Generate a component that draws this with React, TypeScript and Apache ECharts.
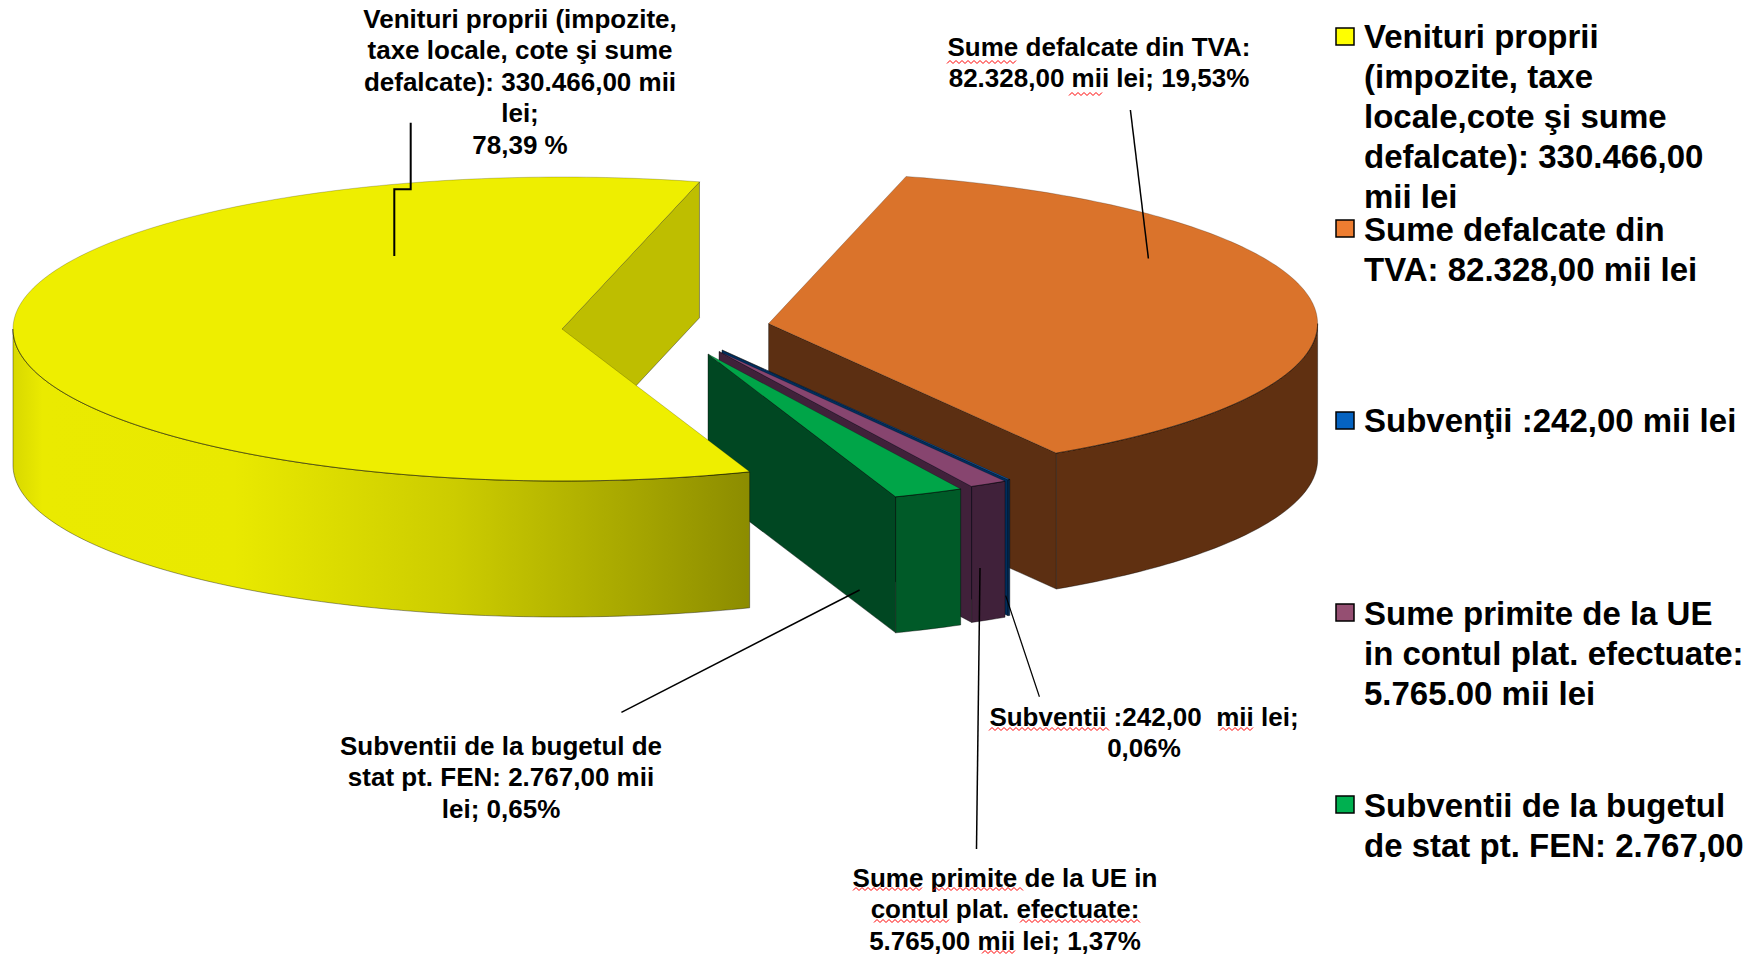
import React, { useEffect, useRef } from "react";
import * as echarts from "echarts";

// Data ------------------------------------------------------------------
const sliceNames = [
  "Venituri proprii",
  "Subventii de la bugetul de stat pt. FEN",
  "Sume primite de la UE",
  "Subvenţii",
  "Sume defalcate din TVA",
];
// Amounts printed in the labels (mii lei)
const statedValues = [330466, 2767, 5765, 242, 82328];
// Share of the circle each slice really occupies in the picture (%)
const drawnShares = [59.58, 2.06, 1.11, 0.06, 37.19];

const dataLabels = [
  "Venituri proprii (impozite,\ntaxe locale, cote şi sume\ndefalcate): 330.466,00 mii\nlei;\n78,39 %",
  "Sume defalcate din TVA:\n82.328,00 mii lei; 19,53%",
  "Subventii :242,00  mii lei;\n0,06%",
  "Sume primite de la UE in\ncontul plat. efectuate:\n5.765,00 mii lei; 1,37%",
  "Subventii de la bugetul de\nstat pt. FEN: 2.767,00 mii\nlei; 0,65%",
];
const legendLabels = [
  "Venituri proprii\n(impozite, taxe\nlocale,cote şi sume\ndefalcate): 330.466,00\nmii lei",
  "Sume defalcate din\nTVA: 82.328,00 mii lei",
  "Subvenţii :242,00 mii lei",
  "Sume primite de la UE\nin contul plat. efectuate:\n5.765.00 mii lei",
  "Subventii de la bugetul\nde stat pt. FEN: 2.767,00",
];

// Layout ----------------------------------------------------------------
const FONT = '"Liberation Sans", Arial, sans-serif';
const START_ANGLE = 75.5;
const RX = 549;
const RY = 152;
const DEPTH = 136;
// exploded centre of each slice, same order as sliceNames
const centres = [
  [562, 329],
  [708, 354],
  [719, 351.5],
  [722, 350],
  [768.6, 323.6],
];
const paintOrder = [4, 3, 2, 1, 0];
const yellowWall = {
  type: "linear", x: 0, y: 0, x2: 1, y2: 0,
  colorStops: [
    { offset: 0, color: "#d8d800" },
    { offset: 0.04, color: "#eaea00" },
    { offset: 0.3, color: "#e9e900" },
    { offset: 0.6, color: "#cccc00" },
    { offset: 0.85, color: "#a5a500" },
    { offset: 1, color: "#8c8c00" },
  ],
};
const topColors = ["#eeee00", "#00a548", "#87456f", "#0563c1", "#da732b"];
const innerColors = ["#bebe00", "#004722", "#40213a", "#002d5c", "#5c2f12"];
const outerColors: any[] = [yellowWall, "#005a28", "#40213a", "#002d5c", "#603011"];

const legendColors = ["#ffff00", "#ed7d31", "#0563c1", "#954f72", "#00b050"];
const legendIconTops = [28, 220, 412, 604, 796];
const legendTextTops = [16, 209, 400, 593, 785];

const labelAnchors = [
  { x: 520, y: 3 },
  { x: 1099, y: 31 },
  { x: 1144, y: 701 },
  { x: 1005, y: 862 },
  { x: 501, y: 730 },
];
const leaders = [
  { w: 2, pts: [[410.7, 122.7], [410.7, 189.3], [394.3, 189.3], [394.3, 256]] },
  { w: 1.5, pts: [[1130.4, 110], [1148.4, 258.5]] },
  { w: 1.5, pts: [[621.4, 712.4], [859.6, 590]] },
  { w: 1.5, pts: [[976.5, 849], [980, 568]] },
  { w: 1.2, pts: [[1005.7, 595.6], [1039.4, 696.7]] },
];
// spell-check underlines [x0, x1, y]
const squiggles = [
  [947, 1017, 62], [1069, 1104, 94],
  [989, 1110, 729], [1220, 1254, 729],
  [853, 923, 889], [933, 1023, 889],
  [874, 950, 921], [1020, 1140, 921],
  [982, 1016, 952],
];

// Geometry --------------------------------------------------------------
const startAngles: number[] = [];
drawnShares.reduce((acc, s, i) => {
  startAngles[i] = acc;
  return acc + (s / 100) * 360;
}, START_ANGLE);

function rim(cx: number, cy: number, a0: number, a1: number, dy = 0) {
  const n = Math.max(2, Math.ceil(Math.abs(a1 - a0)));
  const out: number[][] = [];
  for (let k = 0; k <= n; k++) {
    const t = ((a0 + ((a1 - a0) * k) / n) * Math.PI) / 180;
    out.push([cx + RX * Math.cos(t), cy - RY * Math.sin(t) + dy]);
  }
  return out;
}

const EDGE = "rgba(0,0,0,0.55)";
const SOFT_EDGE = "rgba(0,0,0,0.3)";

function renderSlice(_params: any, api: any) {
  const i = api.value(0);
  const share = api.value(1);
  const [cx, cy] = centres[i];
  const a0 = startAngles[i];
  const a1 = a0 + (share / 100) * 360;
  const children: any[] = [];

  // radial face at the slice's starting edge
  const s = rim(cx, cy, a0, a0)[0];
  children.push({
    type: "polygon",
    shape: { points: [[cx, cy], s, [s[0], s[1] + DEPTH], [cx, cy + DEPTH]] },
    style: { fill: innerColors[i], stroke: EDGE, lineWidth: 0.7 },
  });

  // front part of the outer wall (where the rim faces the viewer)
  const w0 = Math.max(a0, 180);
  const w1 = Math.min(a1, 360);
  const hasWall = w1 > w0;
  if (hasWall) {
    const upper = rim(cx, cy, w0, w1);
    const lower = rim(cx, cy, w1, w0, DEPTH);
    children.push({
      type: "polygon",
      shape: { points: upper.concat(lower) },
      style: { fill: outerColors[i], stroke: EDGE, lineWidth: 0.7 },
    });
  }

  // top face
  children.push({
    type: "polygon",
    shape: { points: [[cx, cy] as number[]].concat(rim(cx, cy, a0, a1)) },
    style: { fill: topColors[i], stroke: SOFT_EDGE, lineWidth: 0.7 },
  });
  // crisp front rim over the top face
  if (hasWall) {
    children.push({
      type: "polyline",
      shape: { points: rim(cx, cy, w0, w1) },
      style: { fill: "none", stroke: EDGE, lineWidth: 0.8 },
    });
  }
  return { type: "group", children };
}

function zigzag(x0: number, x1: number, y: number) {
  const pts: number[][] = [];
  let up = false;
  for (let x = x0; x <= x1; x += 3) {
    pts.push([x, y + (up ? -1.5 : 1.5)]);
    up = !up;
  }
  return pts;
}

export default function App() {
  const ref = useRef<HTMLDivElement>(null);
  useEffect(() => {
    document.body.style.margin = "0";
    const chart = echarts.init(ref.current!, null, { renderer: "svg" });
    const graphics: any[] = [];

    leaders.forEach((l) =>
      graphics.push({
        type: "polyline", z: 5,
        shape: { points: l.pts },
        style: { stroke: "#000", lineWidth: l.w, fill: "none" },
      })
    );
    dataLabels.forEach((text, i) =>
      graphics.push({
        type: "text", z: 6,
        style: {
          text, x: labelAnchors[i].x, y: labelAnchors[i].y,
          align: "center", verticalAlign: "top",
          fontFamily: FONT, fontWeight: "bold", fontSize: 26, lineHeight: 31.5, fill: "#000",
        },
      })
    );
    squiggles.forEach(([x0, x1, y]) =>
      graphics.push({
        type: "polyline", z: 7,
        shape: { points: zigzag(x0, x1, y) },
        style: { stroke: "#ff0000", lineWidth: 1, fill: "none" },
      })
    );
    legendLabels.forEach((text, i) => {
      graphics.push({
        type: "rect", z: 6,
        shape: { x: 1336, y: legendIconTops[i], width: 18, height: 17 },
        style: { fill: legendColors[i], stroke: "#000", lineWidth: 1.5 },
      });
      graphics.push({
        type: "text", z: 6,
        style: {
          text, x: 1364, y: legendTextTops[i],
          align: "left", verticalAlign: "top",
          fontFamily: FONT, fontWeight: "bold", fontSize: 33, lineHeight: 40.2, fill: "#000",
        },
      });
    });

    chart.setOption({
      animation: false,
      backgroundColor: "#fff",
      tooltip: { show: false },
      graphic: { elements: graphics },
      series: [
        {
          type: "custom",
          coordinateSystem: "none",
          renderItem: renderSlice,
          silent: true,
          clip: false,
          data: paintOrder.map((i) => ({
            name: sliceNames[i],
            value: [i, drawnShares[i], statedValues[i]],
          })),
        },
      ],
    });
    return () => chart.dispose();
  }, []);
  return (
    <div
      ref={ref}
      style={{ position: "absolute", left: 0, top: 0, width: 1762, height: 956 }}
    />
  );
}
